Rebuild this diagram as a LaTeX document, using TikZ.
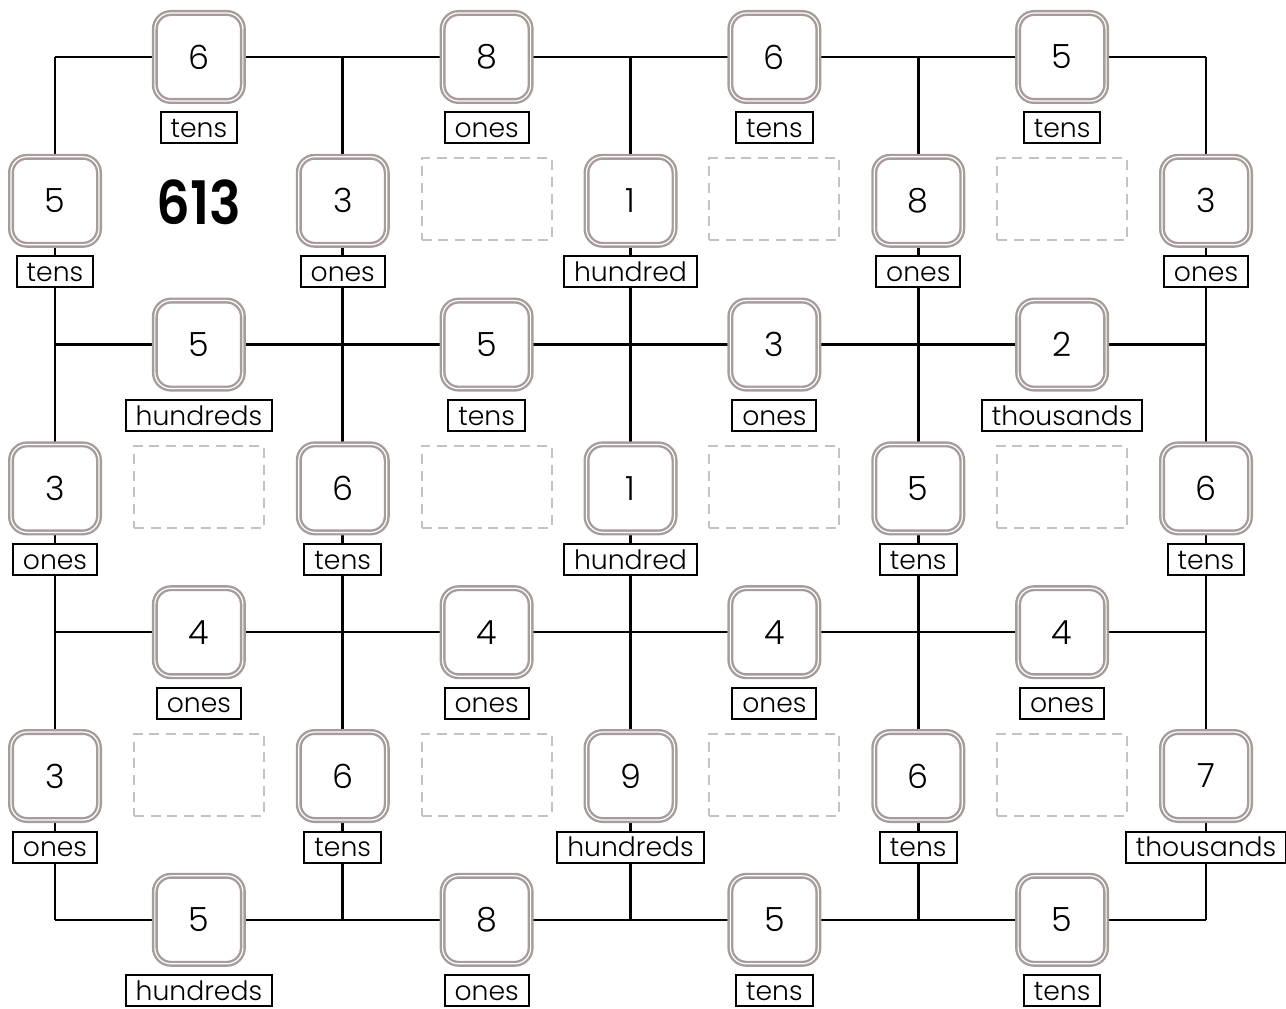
\documentclass[tikz,border=0pt]{standalone}
\usepackage{graphicx}
\usepackage{fontspec}
\setmainfont{Poppins}[UprightFont={* Light}, BoldFont={* SemiBold}]
\usetikzlibrary{calc}
\definecolor{boxc}{RGB}{168,156,154}
\definecolor{dashc}{RGB}{195,195,195}
\begin{document}
\begin{tikzpicture}[x=0.75pt,y=-0.75pt,
  numbox/.style={draw=boxc, fill=white, line width=1.8pt, double=white,
    double distance=0.9pt, rounded corners=12pt, minimum width=66pt,
    minimum height=66pt, inner sep=0pt, font=\fontsize{25}{25}\selectfont},
  lab/.style={draw=black, fill=white, line width=1.5pt, minimum height=23.25pt,
    inner xsep=7.5pt, inner ysep=0pt, text height=14.5pt, text depth=0pt,
    font=\fontsize{20}{20}\selectfont},
  dbox/.style={draw=dashc, line width=1.5pt, dash pattern=on 7.5pt off 5pt,
    minimum width=97.5pt, minimum height=61.5pt, inner sep=0pt},
  grid line/.style={draw=black, line width=1.9pt}]
\useasboundingbox (0,0) rectangle (1286,1009);
\foreach \j in {0,...,6}
  \foreach \i in {0,...,8}
    \coordinate (g-\j-\i) at ({55+143.875*\i},{57+143.8*\j});
% grid lines
\foreach \j in {0,2,4,6}
  \draw[grid line] (g-\j-0) -- (g-\j-8);
\foreach \i in {0,2,4,6,8}
  \draw[grid line] (g-0-\i) -- (g-6-\i);
% dashed boxes
\foreach \r/\c in {1/3,1/5,1/7,3/1,3/3,3/5,3/7,5/1,5/3,5/5,5/7}
  \node[dbox] (d-\r-\c) at ($(g-\r-\c)+(0,-1.5)$) {};
% number boxes with labels
\foreach \r/\c/\n/\l in {0/1/6/tens, 0/3/8/ones, 0/5/6/tens, 0/7/5/tens,
  1/0/5/tens, 1/2/3/ones, 1/4/1/hundred, 1/6/8/ones, 1/8/3/ones,
  2/1/5/hundreds, 2/3/5/tens, 2/5/3/ones, 2/7/2/thousands,
  3/0/3/ones, 3/2/6/tens, 3/4/1/hundred, 3/6/5/tens, 3/8/6/tens,
  4/1/4/ones, 4/3/4/ones, 4/5/4/ones, 4/7/4/ones,
  5/0/3/ones, 5/2/6/tens, 5/4/9/hundreds, 5/6/6/tens, 5/8/7/thousands,
  6/1/5/hundreds, 6/3/8/ones, 6/5/5/tens, 6/7/5/tens}
{
  \node[numbox] (n-\r-\c) at (g-\r-\c) {\n};
  \node[lab] (l-\r-\c) at ($(g-\r-\c)+(0,71)$) {\l};
}
\node[font=\bfseries\fontsize{45}{45}\selectfont, inner sep=0pt] (big) at ($(g-1-1)+(0,1)$) {\scalebox{0.88}[1]{613}};
\end{tikzpicture}
\end{document}
